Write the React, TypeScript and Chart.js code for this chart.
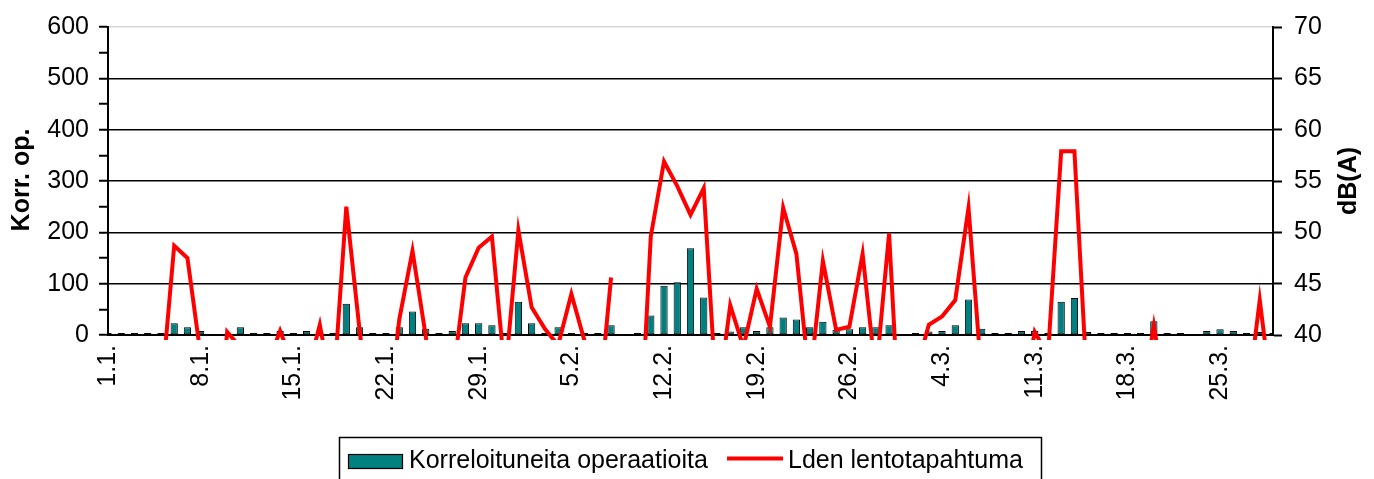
import React, { useEffect, useRef } from 'react';
import { Chart, registerables } from 'chart.js';

Chart.register(...registerables);

const categories = [
  '1.1.', '2.1.', '3.1.', '4.1.', '5.1.', '6.1.', '7.1.', '8.1.', '9.1.', '10.1.',
  '11.1.', '12.1.', '13.1.', '14.1.', '15.1.', '16.1.', '17.1.', '18.1.', '19.1.', '20.1.',
  '21.1.', '22.1.', '23.1.', '24.1.', '25.1.', '26.1.', '27.1.', '28.1.', '29.1.', '30.1.', '31.1.',
  '1.2.', '2.2.', '3.2.', '4.2.', '5.2.', '6.2.', '7.2.', '8.2.', '9.2.', '10.2.',
  '11.2.', '12.2.', '13.2.', '14.2.', '15.2.', '16.2.', '17.2.', '18.2.', '19.2.', '20.2.',
  '21.2.', '22.2.', '23.2.', '24.2.', '25.2.', '26.2.', '27.2.', '28.2.', '29.2.',
  '1.3.', '2.3.', '3.3.', '4.3.', '5.3.', '6.3.', '7.3.', '8.3.', '9.3.', '10.3.',
  '11.3.', '12.3.', '13.3.', '14.3.', '15.3.', '16.3.', '17.3.', '18.3.', '19.3.', '20.3.',
  '21.3.', '22.3.', '23.3.', '24.3.', '25.3.', '26.3.', '27.3.', '28.3.', '29.3.',
];

const korrOp = [
  4, 4, 4, 4, 4, 23, 15, 8, null, null,
  15, 4, 4, 8, 4, 8, 4, 4, 61, 15,
  4, 4, 15, 46, 12, 4, 8, 23, 23, 19,
  4, 65, 23, 4, 15, 4, 4, 4, 19, null,
  4, 38, 96, 103, 169, 73, 4, 7, 15, 8,
  15, 34, 30, 15, 26, 10, 11, 15, 15, 19,
  null, 4, 7, 8, 19, 69, 12, 4, 4, 8,
  8, 4, 65, 72, 6, 4, 4, 4, 4, 27,
  4, 4, null, 8, 11, 8, 4, 6, 4,
];

const ldenDb = [
  30, 30, 30, 30, 34, 48.7, 47.5, 38, 25, 40.3,
  38.8, 30, 37, 40.4, 37, 36, 41.0, 34, 52.5, 40.5,
  30, 30, 41.5, 48.2, 39.9, 30, 35.4, 45.6, 48.5, 49.6,
  36, 50.2, 42.7, 40.6, 39, 44.0, 39.4, 32, 45.6, null,
  25, 49.6, 56.9, 54.5, 51.7, 54.3, 33, 42.9, 38.8, 44.5,
  40.8, 52.4, 47.9, 35.3, 47.2, 40.5, 40.8, 47.9, 36, 49.9,
  26, 36.3, 41.0, 41.8, 43.4, 52.4, 35.7, 30, 30, 33,
  40.3, 38, 57.9, 57.9, 34, 30, 30, 30, 33, 40.9,
  33, 30, 30, 30, 30, 30, 33, 43.4, 33,
];

const seriesNames = ['Korreloituneita operaatioita', 'Lden lentotapahtuma'];
const axisTitles = ['Korr. op.', 'dB(A)'];

const FONT = "'Liberation Sans', Arial, sans-serif";

export default function App() {
  const ref = useRef<HTMLCanvasElement | null>(null);

  useEffect(() => {
    document.body.style.margin = '0';
    const canvas = ref.current;
    if (!canvas) return;

    const overlay = {
      id: 'overlay',
      afterDraw(chart: any) {
        const ctx = chart.ctx as CanvasRenderingContext2D;
        ctx.save();
        ctx.fillStyle = '#000';
        ctx.font = `bold 25px ${FONT}`;
        ctx.textAlign = 'center';
        ctx.textBaseline = 'middle';
        ctx.save();
        ctx.translate(22.5, 180);
        ctx.rotate(-Math.PI / 2);
        ctx.fillText(axisTitles[0], 0, 0);
        ctx.restore();
        ctx.save();
        ctx.translate(1349, 181);
        ctx.rotate(-Math.PI / 2);
        ctx.fillText(axisTitles[1], 0, 0);
        ctx.restore();

        // legend
        const ds = chart.data.datasets;
        ctx.lineWidth = 1.5;
        ctx.strokeStyle = '#000';
        ctx.strokeRect(339.5, 437.5, 702, 60);
        ctx.fillStyle = ds[0].backgroundColor;
        ctx.fillRect(348, 454, 55, 14);
        ctx.lineWidth = 1.2;
        ctx.strokeRect(348.5, 454.5, 54, 14);
        ctx.fillStyle = '#000';
        ctx.font = `25px ${FONT}`;
        ctx.textAlign = 'left';
        ctx.textBaseline = 'alphabetic';
        ctx.fillText(ds[0].label, 409, 468);
        ctx.strokeStyle = ds[1].borderColor;
        ctx.lineWidth = 4;
        ctx.beginPath();
        ctx.moveTo(727, 458.5);
        ctx.lineTo(783, 458.5);
        ctx.stroke();
        ctx.fillText(ds[1].label, 788, 468);
        ctx.restore();
      },
    };

    const chart = new Chart(canvas, {
      type: 'bar',
      data: {
        labels: categories,
        datasets: [
          {
            type: 'bar',
            label: seriesNames[0],
            data: korrOp,
            backgroundColor: '#008080',
            borderColor: '#000',
            borderWidth: 1,
            borderSkipped: false,
            yAxisID: 'y',
            order: 2,
            barPercentage: 0.55,
            categoryPercentage: 1,
          } as any,
          {
            type: 'line',
            label: seriesNames[1],
            data: ldenDb,
            borderColor: '#ff0000',
            backgroundColor: '#ff0000',
            borderWidth: 4,
            pointRadius: 0,
            pointHoverRadius: 0,
            tension: 0,
            spanGaps: false,
            yAxisID: 'y1',
            order: 1,
            clip: { left: 0, right: 0, top: 5, bottom: 5 },
          } as any,
        ],
      },
      options: {
        responsive: false,
        animation: false,
        events: [],
        layout: { padding: { top: 24, left: 0, right: 0, bottom: 0 } },
        plugins: { legend: { display: false }, tooltip: { enabled: false } },
        scales: {
          x: {
            type: 'category',
            offset: false,
            grid: { display: true, drawOnChartArea: false, drawTicks: false, offset: false },
            border: { display: true, color: '#000', width: 2 },
            ticks: {
              autoSkip: false,
              maxRotation: 90,
              minRotation: 90,
              padding: 10,
              color: '#000',
              font: { size: 25, family: FONT },
              callback: (_v: any, i: number) => (i % 7 === 0 ? categories[i] : ''),
            },
            afterFit: (s: any) => {
              s.height = 144;
            },
          },
          y: {
            position: 'left',
            min: 0,
            max: 600,
            ticks: {
              stepSize: 50,
              autoSkip: false,
              padding: 10,
              color: '#000',
              font: { size: 25, family: FONT },
              callback: (v: any) => (Number(v) % 100 === 0 ? String(v) : ''),
            },
            grid: {
              color: (c: any) => {
                const v = c.tick ? c.tick.value : 0;
                if (v % 100 !== 0) return 'rgba(0,0,0,0)';
                return v === 600 ? '#d9d9d9' : '#000';
              },
              lineWidth: 1.5,
              tickColor: '#000',
              tickWidth: 2,
              tickLength: 9,
            },
            border: { display: true, color: '#000', width: 2 },
            afterFit: (s: any) => {
              s.width = 108;
            },
          },
          y1: {
            position: 'right',
            min: 40,
            max: 70,
            ticks: {
              stepSize: 5,
              padding: 12,
              color: '#000',
              font: { size: 25, family: FONT },
            },
            grid: {
              drawOnChartArea: false,
              tickColor: '#000',
              tickWidth: 2,
              tickLength: 9,
            },
            border: { display: true, color: '#000', width: 2 },
            afterFit: (s: any) => {
              s.width = 101;
            },
          },
        },
      } as any,
      plugins: [overlay],
    });

    return () => chart.destroy();
  }, []);

  return (
    <div style={{ width: 1374, height: 479 }}>
      <canvas ref={ref} width={1374} height={479} style={{ display: 'block' }} />
    </div>
  );
}
